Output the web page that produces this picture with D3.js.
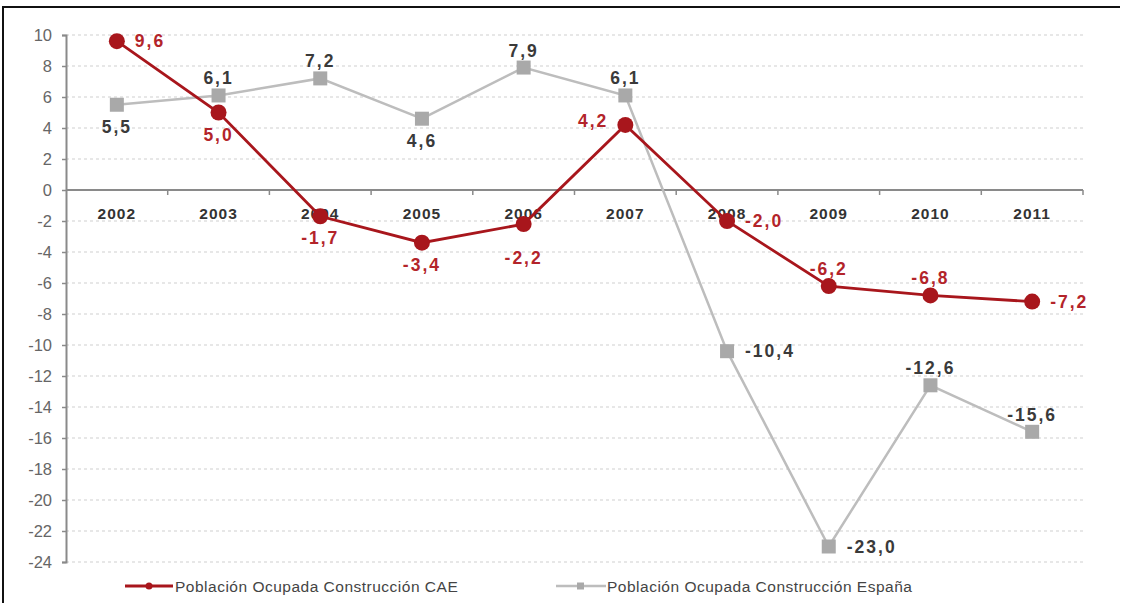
<!DOCTYPE html>
<html>
<head>
<meta charset="utf-8">
<script src="https://cdn.jsdelivr.net/npm/d3@7"></script>
<style>
  html, body { margin: 0; padding: 0; background: #fff; }
  svg { display: block; font-family: "Liberation Sans", Arial, sans-serif; }
</style>
</head>
<body>
<svg id="chart" width="1124" height="603"></svg>
<script>
// Annual change in construction employment (%)
const years = ["2002", "2003", "2004", "2005", "2006", "2007", "2008", "2009", "2010", "2011"];
const caeValues = [9.6, 5.0, -1.7, -3.4, -2.2, 4.2, -2.0, -6.2, -6.8, -7.2];
const espanaValues = [5.5, 6.1, 7.2, 4.6, 7.9, 6.1, -10.4, -23.0, -12.6, -15.6];
const yTicks = [10, 8, 6, 4, 2, 0, -2, -4, -6, -8, -10, -12, -14, -16, -18, -20, -22, -24];
const seriesNames = ["Población Ocupada Construcción CAE", "Población Ocupada Construcción España"];

// Label placement per point: r = right, l = left, a = above, b = below, bb = further below
const caePos = ["r", "b", "b", "b", "bb", "l", "r", "a", "a", "r"];
const espanaPos = ["b", "a", "a", "b", "a", "a", "r", "r", "a", "a"];

const RED = "#a8161c";
const RED_TXT = "#b3242a";
const GREY = "#bdbdbd";
const GREY_TXT = "#3a3a3a";

const svg = d3.select("#chart");

// frame
svg.append("line").attr("x1", 3).attr("x2", 3).attr("y1", 6).attr("y2", 603)
  .attr("stroke", "#111").attr("stroke-width", 2);
svg.append("line").attr("x1", 3).attr("x2", 1120).attr("y1", 7).attr("y2", 7)
  .attr("stroke", "#111").attr("stroke-width", 2);

const left = 66, right = 1083;
const x = d3.scaleBand().domain(years).range([left, right]);
const y = d3.scaleLinear().domain([-24, 10]).range([562, 35]);
const cx = d => x(d) + x.bandwidth() / 2;

// grid
svg.append("g").selectAll("line").data(yTicks.filter(t => t !== 0)).join("line")
  .attr("x1", left).attr("x2", right)
  .attr("y1", d => y(d)).attr("y2", d => y(d))
  .attr("stroke", "#cfcfcf").attr("stroke-width", 1).attr("stroke-dasharray", "3,3");

// y axis
const yAxis = svg.append("g").attr("transform", `translate(${left},0)`)
  .call(d3.axisLeft(y).tickValues(yTicks).tickSize(4).tickPadding(10).tickFormat(d3.format("d")));
yAxis.select(".domain").attr("stroke", "#8a8a8a").attr("stroke-width", 2);
yAxis.selectAll(".tick line").attr("stroke", "#8a8a8a").attr("stroke-width", 1.5);
yAxis.selectAll(".tick text").attr("fill", "#666").attr("font-size", 16.5)
  .attr("font-family", "Liberation Sans, Arial, sans-serif").text(d => d < 0 ? "-" + Math.abs(d) : d);

// x axis at zero
const xAxisG = svg.append("g").attr("transform", `translate(0,${y(0)})`);
xAxisG.append("line").attr("x1", left).attr("x2", right).attr("y1", 0).attr("y2", 0)
  .attr("stroke", "#8a8a8a").attr("stroke-width", 2);
xAxisG.selectAll("line.tk").data(d3.range(years.length)).join("line").attr("class", "tk")
  .attr("x1", i => x(years[i]) + x.bandwidth()).attr("x2", i => x(years[i]) + x.bandwidth())
  .attr("y1", 0).attr("y2", 5).attr("stroke", "#8a8a8a").attr("stroke-width", 1.5);
xAxisG.selectAll("text").data(years).join("text")
  .attr("x", d => cx(d)).attr("y", 29).attr("text-anchor", "middle")
  .attr("font-size", 15.5).attr("font-weight", "bold").attr("letter-spacing", 1).attr("fill", "#333")
  .text(d => d);

const fmt = v => v.toFixed(1).replace(".", ",");
const line = d3.line().x((d, i) => cx(years[i])).y(d => y(d));

// España series
svg.append("path").datum(espanaValues).attr("d", line)
  .attr("fill", "none").attr("stroke", GREY).attr("stroke-width", 2.5);
svg.append("g").selectAll("rect").data(espanaValues).join("rect")
  .attr("x", (d, i) => cx(years[i]) - 7).attr("y", d => y(d) - 7)
  .attr("width", 14).attr("height", 14).attr("fill", "#a9a9a9");

// CAE series
svg.append("path").datum(caeValues).attr("d", line)
  .attr("fill", "none").attr("stroke", RED).attr("stroke-width", 2.8);
svg.append("g").selectAll("circle").data(caeValues).join("circle")
  .attr("cx", (d, i) => cx(years[i])).attr("cy", d => y(d)).attr("r", 8)
  .attr("fill", RED);

function labels(values, pos, color) {
  svg.append("g").selectAll("text").data(values).join("text")
    .attr("x", (d, i) => {
      const p = pos[i], c = cx(years[i]);
      if (p === "r") return c + 18;
      if (p === "l") return c - 17;
      return c;
    })
    .attr("y", (d, i) => {
      const p = pos[i], c = y(d);
      if (p === "a") return c - 11;
      if (p === "b") return c + 28;
      if (p === "bb") return c + 40;
      if (p === "l") return c + 2;
      return c + 6;
    })
    .attr("text-anchor", (d, i) => pos[i] === "r" ? "start" : pos[i] === "l" ? "end" : "middle")
    .attr("font-size", 17.5).attr("font-weight", "bold").attr("letter-spacing", 2).attr("fill", color)
    .text(d => fmt(d));
}
labels(espanaValues, espanaPos, GREY_TXT);
labels(caeValues, caePos, RED_TXT);

// legend
const lg = svg.append("g").attr("font-size", 15.5).attr("letter-spacing", 0.5).attr("fill", "#444");
lg.append("line").attr("x1", 125).attr("x2", 173).attr("y1", 586).attr("y2", 586)
  .attr("stroke", RED).attr("stroke-width", 3);
lg.append("circle").attr("cx", 149).attr("cy", 586).attr("r", 3.5).attr("fill", RED);
lg.append("text").attr("x", 175).attr("y", 591.5).text(seriesNames[0]);
lg.append("line").attr("x1", 556).attr("x2", 606).attr("y1", 586).attr("y2", 586)
  .attr("stroke", GREY).attr("stroke-width", 2.5);
lg.append("rect").attr("x", 577).attr("y", 582.5).attr("width", 7).attr("height", 7).attr("fill", "#a9a9a9");
lg.append("text").attr("x", 607).attr("y", 591.5).text(seriesNames[1]);
</script>
</body>
</html>
